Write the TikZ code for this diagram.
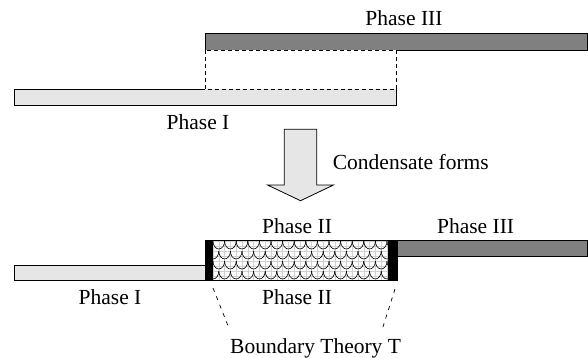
\documentclass[tikz,border=0pt]{standalone}
\usepackage{fontspec}
\setmainfont{Liberation Serif}
\definecolor{lightbar}{HTML}{E6E6E6}
\definecolor{darkbar}{HTML}{808080}
\begin{document}
\begin{tikzpicture}[x=1pt,y=-1pt,
  lbl/.style={font=\fontsize{21.5}{26}\selectfont, anchor=base, inner sep=0pt},
  barline/.style={draw=black, line width=0.9pt},
  dashrect/.style={draw=black, line width=0.9pt, dash pattern=on 4pt off 3pt},
  dashlink/.style={draw=black, line width=0.7pt, dash pattern=on 4pt off 5pt},
  scaleln/.style={draw=black, line width=0.6pt},
  gridln/.style={draw=black!18, line width=0.4pt}]
\useasboundingbox (0,0) rectangle (588,358);

% ---------- top ----------
% Phase III bar (top)
\fill[darkbar] (205,33.3) rectangle (587,50);
\draw[barline] (396,50) -- (587,50) -- (587,33.3) -- (205,33.3) -- (205,50);
% Phase I bar (top)
\fill[lightbar] (14,89.3) rectangle (396,105.3);
\draw[barline] (205,89.3) -- (14,89.3) -- (14,105.3) -- (396,105.3) -- (396,89.3);
% dashed region
\draw[dashrect] (205,50) rectangle (396,89.3);

\node[lbl] (p3top) at (404,26) {Phase III};
\node[lbl] (p1top) at (198,129.3) {Phase I};

% ---------- arrow ----------
\filldraw[fill=lightbar, draw=black, line width=0.8pt]
  (284.3,129.3) -- (316.7,129.3) -- (316.7,185) -- (333.5,185) -- (300.5,200.7)
  -- (267.5,185) -- (284.3,185) -- cycle;
\node[lbl, anchor=base west] (cond) at (332.7,169.3) {Condensate forms};

% ---------- bottom ----------
\filldraw[fill=lightbar, barline] (14,265) rectangle (205,280.7);
\filldraw[fill=darkbar, barline] (397,240) rectangle (587,256.7);
\fill[white] (205,240) rectangle (397,280.7);
\begin{scope}
  \clip (213,240.5) rectangle (388,280.2);
  \foreach \gx in {0,...,31} { \draw[gridln] ({213+5.8*\gx},240) -- ({213+5.8*\gx},281); }
  \foreach \gy in {0,...,8} { \draw[gridln] (213,{241+5*\gy}) -- (388,{241+5*\gy}); }
  \foreach \r in {-1,0,1,2,3,4} {
    \pgfmathsetmacro{\yp}{243+10*\r}
    \pgfmathsetmacro{\xo}{mod(\r+2,2)==0 ? 207.2 : 213}
    \foreach \k in {0,...,16} {
      \draw[scaleln] ({\xo+11.6*\k},{\yp+8}) arc[start angle=180, end angle=0, x radius=5.8, y radius=8];
    }
  }
\end{scope}
\draw[barline] (205,240) rectangle (397,280.7);
\fill[black] (205,240) rectangle (213,280.7);
\fill[black] (388,240) rectangle (397,280.7);

\node[lbl] (p2a) at (297,233.3) {Phase II};
\node[lbl] (p3b) at (475.6,233.3) {Phase III};
\node[lbl] (p1b) at (110,304.3) {Phase I};
\node[lbl] (p2b) at (297,304.3) {Phase II};
\node[lbl, anchor=base west] (bt) at (230,353.3) {Boundary Theory T};

\coordinate (lt) at (213,288);
\coordinate (lb) at (228.5,327);
\coordinate (rt) at (395,289);
\coordinate (rb) at (382.3,329);
\draw[dashlink] (lt) -- (lb);
\draw[dashlink] (rt) -- (rb);
\end{tikzpicture}
\end{document}
